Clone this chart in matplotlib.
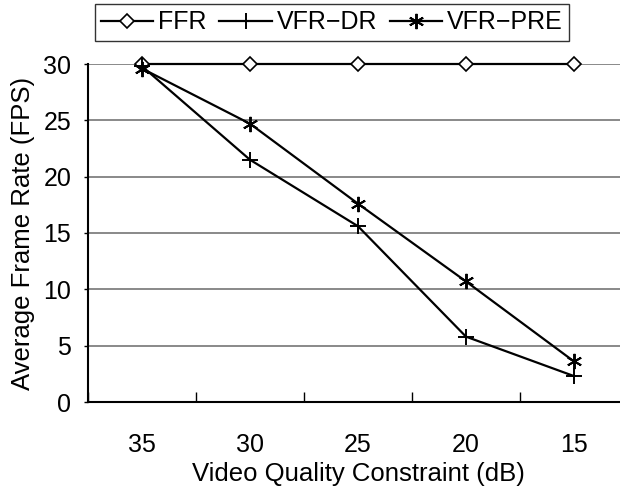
import numpy as np
import matplotlib.pyplot as plt

plt.rcParams['font.family'] = ['Liberation Sans', 'DejaVu Sans']

quality = ['35', '30', '25', '20', '15']
ffr = [30, 30, 30, 30, 30]
vfr_dr = [29.8, 21.5, 15.6, 5.8, 2.3]
vfr_pre = [29.6, 24.7, 17.6, 10.7, 3.6]

fig = plt.figure(figsize=(6.2, 4.93), dpi=100)
# plot area runs past the right edge of the figure
ax = fig.add_axes([88 / 620, 1 - 402 / 493, 540 / 620, 338 / 493])

x = np.arange(len(quality))
ax.plot(x, ffr, color='black', lw=1.6, marker='D', ms=7, mfc='white', mec='black', mew=1.2,
        label='FFR', zorder=4, clip_on=False)
ax.plot(x, vfr_dr, color='black', lw=1.6, marker='+', ms=11, mew=1.4, label='VFR\u2212DR',
        zorder=4, clip_on=False)
ax.plot(x, vfr_pre, color='black', lw=1.6, marker=(6, 2, 0), ms=11, mew=1.4, label='VFR\u2212PRE',
        zorder=4, clip_on=False)

ax.set_xlim(-0.5, 4.5)
ax.set_ylim(0, 30)
ax.set_yticks(range(0, 31, 5))
ax.yaxis.grid(True, color='#808080', lw=1.3)
ax.set_axisbelow(True)

# category boundary ticks pointing up, labels centred in each slot
ax.set_xticks(np.arange(-0.5, 4.6, 1))
ax.set_xticklabels([])
ax.set_xticks(x, minor=True)
ax.set_xticklabels(quality, minor=True)
ax.tick_params(axis='x', which='major', direction='in', length=7, width=1)
ax.tick_params(axis='x', which='minor', length=0, pad=22, labelsize=18)
ax.tick_params(axis='y', direction='out', length=3, width=1, labelsize=18, pad=9)

for s in ['top', 'right']:
    ax.spines[s].set_visible(False)
ax.spines['left'].set_linewidth(1.5)
ax.spines['bottom'].set_linewidth(1.5)

ax.set_xlabel('Video Quality Constraint (dB)', fontsize=18.5, labelpad=4)
ax.set_ylabel('Average Frame Rate (FPS)', fontsize=18.5, labelpad=6)

leg = fig.legend(loc='upper center', bbox_to_anchor=(332 / 620, 1 - 4 / 493), ncol=3, fontsize=18,
                 frameon=True, fancybox=False, edgecolor='black', handlelength=2.1,
                 handletextpad=0.2, columnspacing=0.5, borderpad=0.25, borderaxespad=0)
leg.get_frame().set_linewidth(1.0)

fig.savefig('out.png', dpi=100)
